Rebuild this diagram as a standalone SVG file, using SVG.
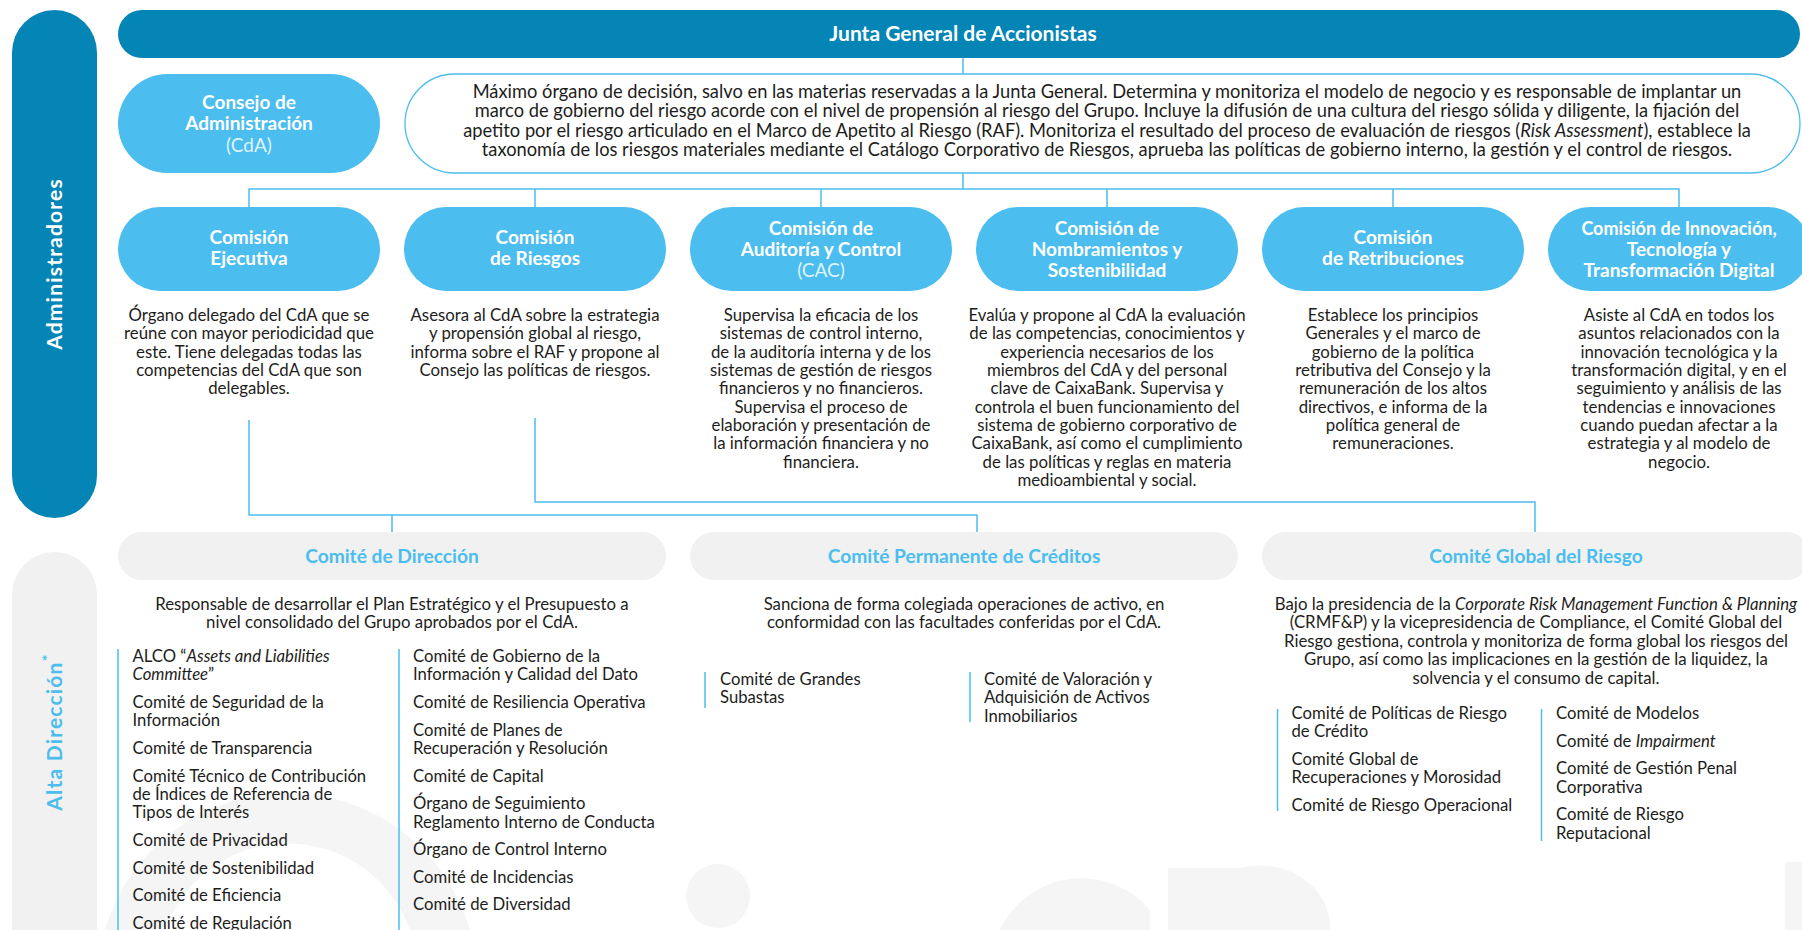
<svg xmlns="http://www.w3.org/2000/svg" width="1802" height="930" viewBox="0 0 1802 930">
<style>
text{font-family:Lato,"Open Sans","Liberation Sans",sans-serif}
.w{fill:#fff;font-weight:700;font-size:19px;text-anchor:middle}
.wl{fill:#dff3fc;font-weight:400;font-size:19px;text-anchor:middle}
.d{fill:#1d1d1b;font-size:16.8px;text-anchor:middle}
.t{fill:#1d1d1b;font-size:18.3px;text-anchor:middle}
.l{fill:#1d1d1b;font-size:16.7px}
.h{fill:#4BBDEE;font-weight:700;font-size:19.2px;text-anchor:middle}
.ln{stroke:#4BBDEE;stroke-width:1.5;fill:none}
.dk{fill:#0585B5}
.lb{fill:#4BBDEE}
.gr{fill:#F1F1F1}
.wm{fill:#F5F5F5}
</style>
<rect width="1802" height="930" fill="#fff"/>
<g id="watermark">
<path class="wm" d="M105,930 A190,190 0 0 1 470,930 L410,930 A130,130 0 0 0 165,930 Z"/>
<circle class="wm" cx="718" cy="896" r="32"/>
<path class="wm" d="M1000,930 A90,90 0 0 1 1150,910 L1150,930 Z"/>
<path class="wm" d="M1168,868 L1240,868 A70,62 0 0 1 1330,930 L1168,930 Z"/>
<rect class="wm" x="1785" y="862" width="17" height="68"/>
</g>
<g id="side-admin">
<rect class="dk" x="12" y="10" width="85" height="508" rx="42.5"/>
<text transform="translate(62,264) rotate(-90)" style="fill:#fff;font-weight:700;font-size:21px;text-anchor:middle;letter-spacing:1.2px">Administradores</text>
</g>
<g id="side-alta">
<rect class="gr" x="12" y="552" width="85" height="420" rx="42.5"/>
<text transform="translate(62,732) rotate(-90)" style="fill:#4BBDEE;font-weight:700;font-size:21px;text-anchor:middle;letter-spacing:1.2px">Alta Dirección<tspan font-size="16" dy="-9">*</tspan></text>
</g>
<g id="connectors">
<line class="ln" x1="963" y1="58" x2="963" y2="74"/>
<line class="ln" x1="963" y1="173" x2="963" y2="189"/>
<polyline class="ln" points="249,207 249,189 1679,189 1679,207"/>
<line class="ln" x1="535" y1="189" x2="535" y2="207"/>
<line class="ln" x1="821" y1="189" x2="821" y2="207"/>
<line class="ln" x1="1107" y1="189" x2="1107" y2="207"/>
<line class="ln" x1="1393" y1="189" x2="1393" y2="207"/>
<polyline class="ln" points="249,420 249,515 977,515 977,532"/>
<line class="ln" x1="392" y1="515" x2="392" y2="532"/>
<polyline class="ln" points="535,418 535,502 1535,502 1535,532"/>
<line class="ln" x1="118" y1="649" x2="118" y2="930"/>
<line class="ln" x1="399" y1="649" x2="399" y2="930"/>
<line class="ln" x1="705" y1="672" x2="705" y2="708"/>
<line class="ln" x1="970" y1="672" x2="970" y2="722"/>
<line class="ln" x1="1277.5" y1="709" x2="1277.5" y2="811"/>
<line class="ln" x1="1541.5" y1="709" x2="1541.5" y2="841"/>
</g>
<g id="junta">
<rect class="dk" x="118" y="10" width="1682" height="48" rx="24"/>
<text class="w" x="963" y="41" style="font-size:21px">Junta General de Accionistas</text>
</g>
<g id="consejo">
<rect class="lb" x="118" y="74" width="262" height="99" rx="49.5"/>
<text class="w" x="249" y="109">Consejo de</text>
<text class="w" x="249" y="130">Administración</text>
<text class="wl" x="249" y="152">(CdA)</text>
</g>
<g id="consejo-desc">
<rect x="405" y="74" width="1395" height="99" rx="49.5" fill="#fff" stroke="#4BBDEE" stroke-width="1.3"/>
<text class="t" x="1107" y="97.5">Máximo órgano de decisión, salvo en las materias reservadas a la Junta General. Determina y monitoriza el modelo de negocio y es responsable de implantar un</text>
<text class="t" x="1107" y="117">marco de gobierno del riesgo acorde con el nivel de propensión al riesgo del Grupo. Incluye la difusión de una cultura del riesgo sólida y diligente, la fijación del</text>
<text class="t" x="1107" y="136.5">apetito por el riesgo articulado en el Marco de Apetito al Riesgo (RAF). Monitoriza el resultado del proceso de evaluación de riesgos (<tspan font-style="italic">Risk Assessment</tspan>), establece la</text>
<text class="t" x="1107" y="156">taxonomía de los riesgos materiales mediante el Catálogo Corporativo de Riesgos, aprueba las políticas de gobierno interno, la gestión y el control de riesgos.</text>
</g>
<g id="com-ejecutiva">
<rect class="lb" x="118" y="207" width="262" height="84" rx="42"/>
<text class="w" x="249" y="244">Comisión</text>
<text class="w" x="249" y="265">Ejecutiva</text>
<text class="d" x="249" y="321">Órgano delegado del CdA que se</text>
<text class="d" x="249" y="339.4">reúne con mayor periodicidad que</text>
<text class="d" x="249" y="357.7">este. Tiene delegadas todas las</text>
<text class="d" x="249" y="376">competencias del CdA que son</text>
<text class="d" x="249" y="394.4">delegables.</text>
</g>
<g id="com-riesgos">
<rect class="lb" x="404" y="207" width="262" height="84" rx="42"/>
<text class="w" x="535" y="244">Comisión</text>
<text class="w" x="535" y="265">de Riesgos</text>
<text class="d" x="535" y="321">Asesora al CdA sobre la estrategia</text>
<text class="d" x="535" y="339.4">y propensión global al riesgo,</text>
<text class="d" x="535" y="357.7">informa sobre el RAF y propone al</text>
<text class="d" x="535" y="376">Consejo las políticas de riesgos.</text>
</g>
<g id="com-auditoria">
<rect class="lb" x="690" y="207" width="262" height="84" rx="42"/>
<text class="w" x="821" y="235">Comisión de</text>
<text class="w" x="821" y="256">Auditoría y Control</text>
<text class="wl" x="821" y="277">(CAC)</text>
<text class="d" x="821" y="321">Supervisa la eficacia de los</text>
<text class="d" x="821" y="339.4">sistemas de control interno,</text>
<text class="d" x="821" y="357.7">de la auditoría interna y de los</text>
<text class="d" x="821" y="376">sistemas de gestión de riesgos</text>
<text class="d" x="821" y="394.4">financieros y no financieros.</text>
<text class="d" x="821" y="412.7">Supervisa el proceso de</text>
<text class="d" x="821" y="431">elaboración y presentación de</text>
<text class="d" x="821" y="449.4">la información financiera y no</text>
<text class="d" x="821" y="467.7">financiera.</text>
</g>
<g id="com-nombramientos">
<rect class="lb" x="976" y="207" width="262" height="84" rx="42"/>
<text class="w" x="1107" y="235">Comisión de</text>
<text class="w" x="1107" y="256">Nombramientos y</text>
<text class="w" x="1107" y="277">Sostenibilidad</text>
<text class="d" x="1107" y="321">Evalúa y propone al CdA la evaluación</text>
<text class="d" x="1107" y="339.4">de las competencias, conocimientos y</text>
<text class="d" x="1107" y="357.7">experiencia necesarios de los</text>
<text class="d" x="1107" y="376">miembros del CdA y del personal</text>
<text class="d" x="1107" y="394.4">clave de CaixaBank. Supervisa y</text>
<text class="d" x="1107" y="412.7">controla el buen funcionamiento del</text>
<text class="d" x="1107" y="431">sistema de gobierno corporativo de</text>
<text class="d" x="1107" y="449.4">CaixaBank, así como el cumplimiento</text>
<text class="d" x="1107" y="467.7">de las políticas y reglas en materia</text>
<text class="d" x="1107" y="486">medioambiental y social.</text>
</g>
<g id="com-retribuciones">
<rect class="lb" x="1262" y="207" width="262" height="84" rx="42"/>
<text class="w" x="1393" y="244">Comisión</text>
<text class="w" x="1393" y="265">de Retribuciones</text>
<text class="d" x="1393" y="321">Establece los principios</text>
<text class="d" x="1393" y="339.4">Generales y el marco de</text>
<text class="d" x="1393" y="357.7">gobierno de la política</text>
<text class="d" x="1393" y="376">retributiva del Consejo y la</text>
<text class="d" x="1393" y="394.4">remuneración de los altos</text>
<text class="d" x="1393" y="412.7">directivos, e informa de la</text>
<text class="d" x="1393" y="431">política general de</text>
<text class="d" x="1393" y="449.4">remuneraciones.</text>
</g>
<g id="com-innovacion">
<rect class="lb" x="1548" y="207" width="262" height="84" rx="42"/>
<text class="w" x="1679" y="235" style="font-size:18px">Comisión de Innovación,</text>
<text class="w" x="1679" y="256">Tecnología y</text>
<text class="w" x="1679" y="277">Transformación Digital</text>
<text class="d" x="1679" y="321">Asiste al CdA en todos los</text>
<text class="d" x="1679" y="339.4">asuntos relacionados con la</text>
<text class="d" x="1679" y="357.7">innovación tecnológica y la</text>
<text class="d" x="1679" y="376">transformación digital, y en el</text>
<text class="d" x="1679" y="394.4">seguimiento y análisis de las</text>
<text class="d" x="1679" y="412.7">tendencias e innovaciones</text>
<text class="d" x="1679" y="431">cuando puedan afectar a la</text>
<text class="d" x="1679" y="449.4">estrategia y al modelo de</text>
<text class="d" x="1679" y="467.7">negocio.</text>
</g>
<g id="comite-direccion">
<rect class="gr" x="118" y="532" width="548" height="48" rx="24"/>
<text class="h" x="392" y="562.5">Comité de Dirección</text>
<text class="d" x="392" y="610">Responsable de desarrollar el Plan Estratégico y el Presupuesto a</text>
<text class="d" x="392" y="628.4">nivel consolidado del Grupo aprobados por el CdA.</text>
<text class="l" x="132.5" y="662">ALCO “<tspan font-style="italic">Assets and Liabilities</tspan></text>
<text class="l" x="132.5" y="680.4"><tspan font-style="italic">Committee</tspan>”</text>
<text class="l" x="132.5" y="708">Comité de Seguridad de la</text>
<text class="l" x="132.5" y="726.4">Información</text>
<text class="l" x="132.5" y="754">Comité de Transparencia</text>
<text class="l" x="132.5" y="781.6">Comité Técnico de Contribución</text>
<text class="l" x="132.5" y="800">de Índices de Referencia de</text>
<text class="l" x="132.5" y="818.4">Tipos de Interés</text>
<text class="l" x="132.5" y="846">Comité de Privacidad</text>
<text class="l" x="132.5" y="873.6">Comité de Sostenibilidad</text>
<text class="l" x="132.5" y="901.2">Comité de Eficiencia</text>
<text class="l" x="132.5" y="928.8">Comité de Regulación</text>
<text class="l" x="413" y="662">Comité de Gobierno de la</text>
<text class="l" x="413" y="680.4">Información y Calidad del Dato</text>
<text class="l" x="413" y="708">Comité de Resiliencia Operativa</text>
<text class="l" x="413" y="735.6">Comité de Planes de</text>
<text class="l" x="413" y="754">Recuperación y Resolución</text>
<text class="l" x="413" y="781.6">Comité de Capital</text>
<text class="l" x="413" y="809.2">Órgano de Seguimiento</text>
<text class="l" x="413" y="827.6">Reglamento Interno de Conducta</text>
<text class="l" x="413" y="855.2">Órgano de Control Interno</text>
<text class="l" x="413" y="882.8">Comité de Incidencias</text>
<text class="l" x="413" y="910.4">Comité de Diversidad</text>
</g>
<g id="comite-creditos">
<rect class="gr" x="690" y="532" width="548" height="48" rx="24"/>
<text class="h" x="964" y="562.5">Comité Permanente de Créditos</text>
<text class="d" x="964" y="610">Sanciona de forma colegiada operaciones de activo, en</text>
<text class="d" x="964" y="628.4">conformidad con las facultades conferidas por el CdA.</text>
<text class="l" x="720" y="685">Comité de Grandes</text>
<text class="l" x="720" y="703.4">Subastas</text>
<text class="l" x="984" y="685">Comité de Valoración y</text>
<text class="l" x="984" y="703.4">Adquisición de Activos</text>
<text class="l" x="984" y="721.8">Inmobiliarios</text>
</g>
<g id="comite-global">
<rect class="gr" x="1262" y="532" width="548" height="48" rx="24"/>
<text class="h" x="1536" y="562.5">Comité Global del Riesgo</text>
<text class="d" x="1536" y="610">Bajo la presidencia de la <tspan font-style="italic">Corporate Risk Management Function &amp; Planning</tspan></text>
<text class="d" x="1536" y="628.4">(CRMF&amp;P) y la vicepresidencia de Compliance, el Comité Global del</text>
<text class="d" x="1536" y="646.8">Riesgo gestiona, controla y monitoriza de forma global los riesgos del</text>
<text class="d" x="1536" y="665.2">Grupo, así como las implicaciones en la gestión de la liquidez, la</text>
<text class="d" x="1536" y="683.6">solvencia y el consumo de capital.</text>
<text class="l" x="1291.5" y="719">Comité de Políticas de Riesgo</text>
<text class="l" x="1291.5" y="737.4">de Crédito</text>
<text class="l" x="1291.5" y="765">Comité Global de</text>
<text class="l" x="1291.5" y="783.4">Recuperaciones y Morosidad</text>
<text class="l" x="1291.5" y="811">Comité de Riesgo Operacional</text>
<text class="l" x="1556" y="719">Comité de Modelos</text>
<text class="l" x="1556" y="746.6">Comité de <tspan font-style="italic">Impairment</tspan></text>
<text class="l" x="1556" y="774.2">Comité de Gestión Penal</text>
<text class="l" x="1556" y="792.6">Corporativa</text>
<text class="l" x="1556" y="820.2">Comité de Riesgo</text>
<text class="l" x="1556" y="838.6">Reputacional</text>
</g>
</svg>
